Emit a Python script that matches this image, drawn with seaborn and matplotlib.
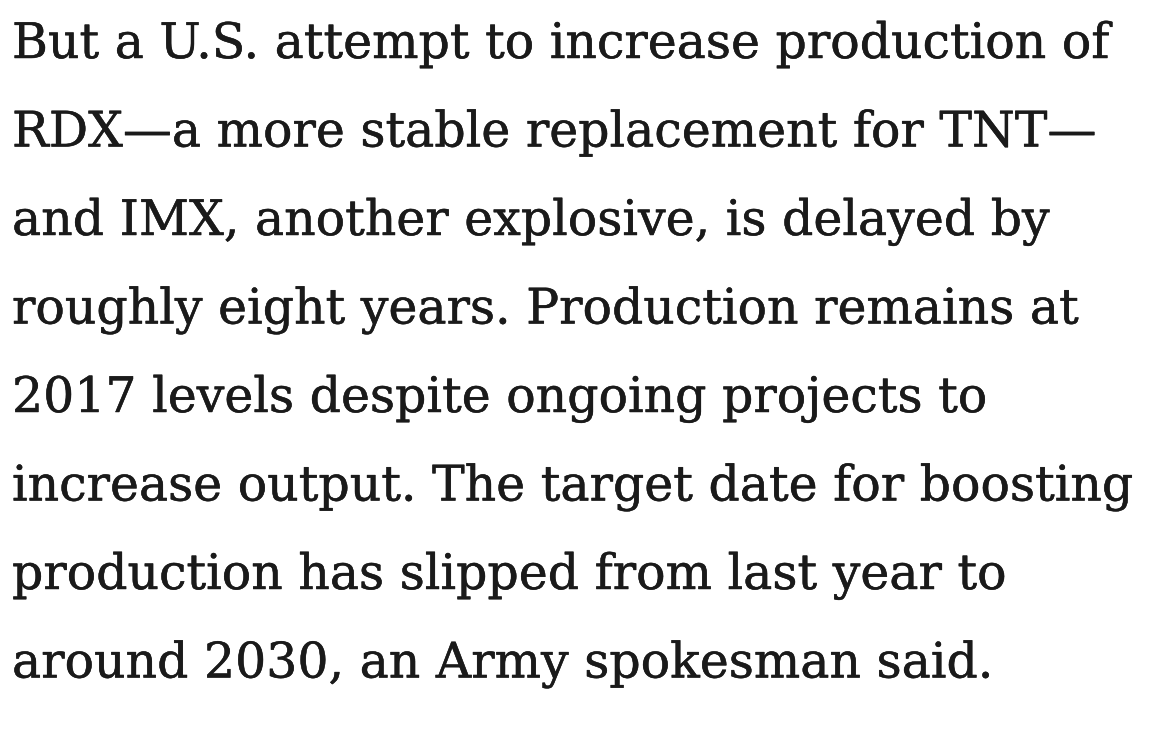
import matplotlib
matplotlib.use("Agg")
import matplotlib.pyplot as plt
import matplotlib.patheffects as pe
import seaborn as sns

# paragraph text, one entry per rendered line
lines = [
    "But a U.S. attempt to increase production of",
    "RDX\u2014a more stable replacement for TNT\u2014",
    "and IMX, another explosive, is delayed by",
    "roughly eight years. Production remains at",
    "2017 levels despite ongoing projects to",
    "increase output. The target date for boosting",
    "production has slipped from last year to",
    "around 2030, an Army spokesman said.",
]

W, H = 1166, 750
left = 12
first_baseline = 58
line_step = 88.5
target_width = 1122  # widest line, in pixels
ink = "#1a1a1a"

sns.set_theme(style="white")
plt.rcParams["font.family"] = ["DejaVu Serif", "Liberation Serif"]

fig = plt.figure(figsize=(W / 100, H / 100), dpi=100)
ax = fig.add_axes([0, 0, 1, 1])
ax.set_xlim(0, W)
ax.set_ylim(H, 0)
ax.axis("off")

# fit the font size so the longest line spans the same width as the reference
renderer = fig.canvas.get_renderer()
probe = ax.text(0, 0, "", fontsize=30)
widths = []
for s in lines:
    probe.set_text(s)
    widths.append(probe.get_window_extent(renderer).width)
probe.remove()
size = 30 * target_width / max(widths)

# the reference face is slightly heavier than DejaVu Serif Book
thicken = [pe.withStroke(linewidth=0.35, foreground=ink)]

for i, s in enumerate(lines):
    ax.text(left, first_baseline + i * line_step, s, fontsize=size,
            color=ink, ha="left", va="baseline", path_effects=thicken)

fig.savefig("out.png", dpi=100, facecolor="white")
plt.close(fig)
